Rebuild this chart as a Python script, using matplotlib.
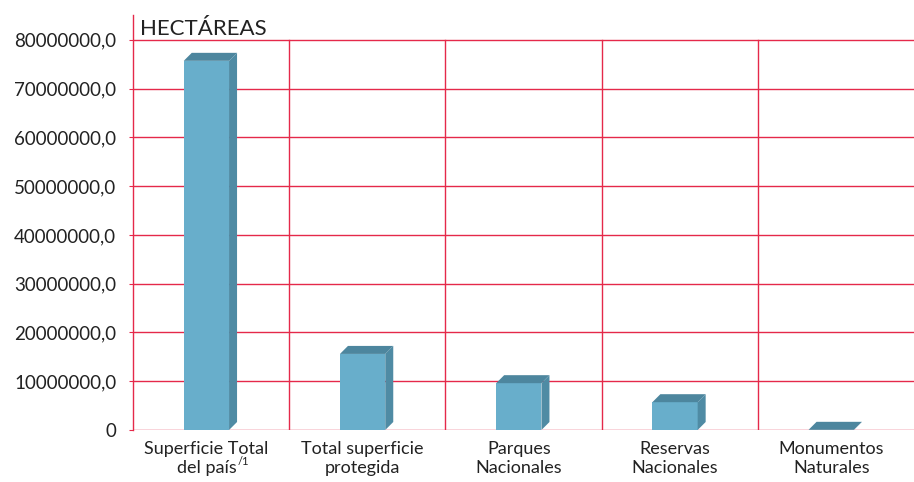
import numpy as np
import matplotlib.pyplot as plt
from matplotlib.patches import Polygon

categorias = ["Superficie Total\ndel país", "Total superficie\nprotegida",
              "Parques\nNacionales", "Reservas\nNacionales", "Monumentos\nNaturales"]
nota = "/1"
hectareas = [75700000, 15600000, 9600000, 5700000, 35000]
y_ticks = [0, 10000000, 20000000, 30000000, 40000000, 50000000, 60000000, 70000000, 80000000]
y_labels = ["0"] + ["%d,0" % v for v in y_ticks[1:]]

plt.rcParams['font.family'] = ['Lato', 'DejaVu Sans']
rojo = '#E5294A'
frente = '#68AECB'
lado = '#4F8BA4'
arriba = '#4D869E'

fig = plt.figure(figsize=(9.14, 4.82), dpi=100)
ax = fig.add_axes([0.1455, 0.1079, 0.8545, 0.861])
ymax = 85100000
ax.set_xlim(-0.5, 4.5)
ax.set_ylim(0, ymax)

# grid lines
for v in y_ticks:
    ax.axhline(v, color=rojo, linewidth=1, zorder=1)
for i in range(1, len(categorias)):
    ax.plot([i - 0.5, i - 0.5], [0, y_ticks[-1]], color=rojo, linewidth=1, zorder=1)

# 3d offset converted from pixels to data units
ancho_px = 0.8545 * 914
alto_px = 0.861 * 482
dx = 8 / ancho_px * 5.0
dy = 8 / alto_px * ymax

x = np.arange(len(categorias)) - 0.03
w = 0.29
ax.bar(x, hectareas, width=w, color=frente, zorder=3)
for xi, h in zip(x, hectareas):
    x0 = xi - w / 2
    x1 = xi + w / 2
    ax.add_patch(Polygon([[x1, 0], [x1 + dx, dy], [x1 + dx, h + dy], [x1, h]],
                         closed=True, facecolor=lado, edgecolor='none', zorder=3))
    ax.add_patch(Polygon([[x0, h], [x1, h], [x1 + dx, h + dy], [x0 + dx, h + dy]],
                         closed=True, facecolor=arriba, edgecolor='none', zorder=3))

ax.set_yticks(y_ticks)
ax.set_yticklabels(y_labels, fontsize=13.5, color='#222222')
ax.set_xticks(x)
ax.set_xticklabels(categorias, fontsize=13, color='#222222', linespacing=1.2)
ax.tick_params(axis='y', length=3, color=rojo, pad=9)
ax.tick_params(axis='x', length=0, pad=8)

for s in ['top', 'right', 'bottom']:
    ax.spines[s].set_visible(False)
ax.spines['left'].set_color(rojo)
ax.spines['left'].set_linewidth(1)

ax.text(0.009, 0.99, "HECTÁREAS", transform=ax.transAxes, fontsize=16,
        color='#222222', va='top', ha='left')

# superscript note after "del país"
fig.canvas.draw()
r = fig.canvas.get_renderer()
t = fig.text(0, 0, "del país", fontsize=13)
ancho = t.get_window_extent(r).width
t.remove()
bb = ax.get_xticklabels()[0].get_window_extent(r)
xc = (bb.x0 + bb.x1) / 2
fig.text((xc + ancho / 2 + 1) / 914, (bb.y0 + 9) / 482, nota, fontsize=8,
         color='#222222', ha='left', va='bottom')

fig.savefig('out.png', dpi=100)
